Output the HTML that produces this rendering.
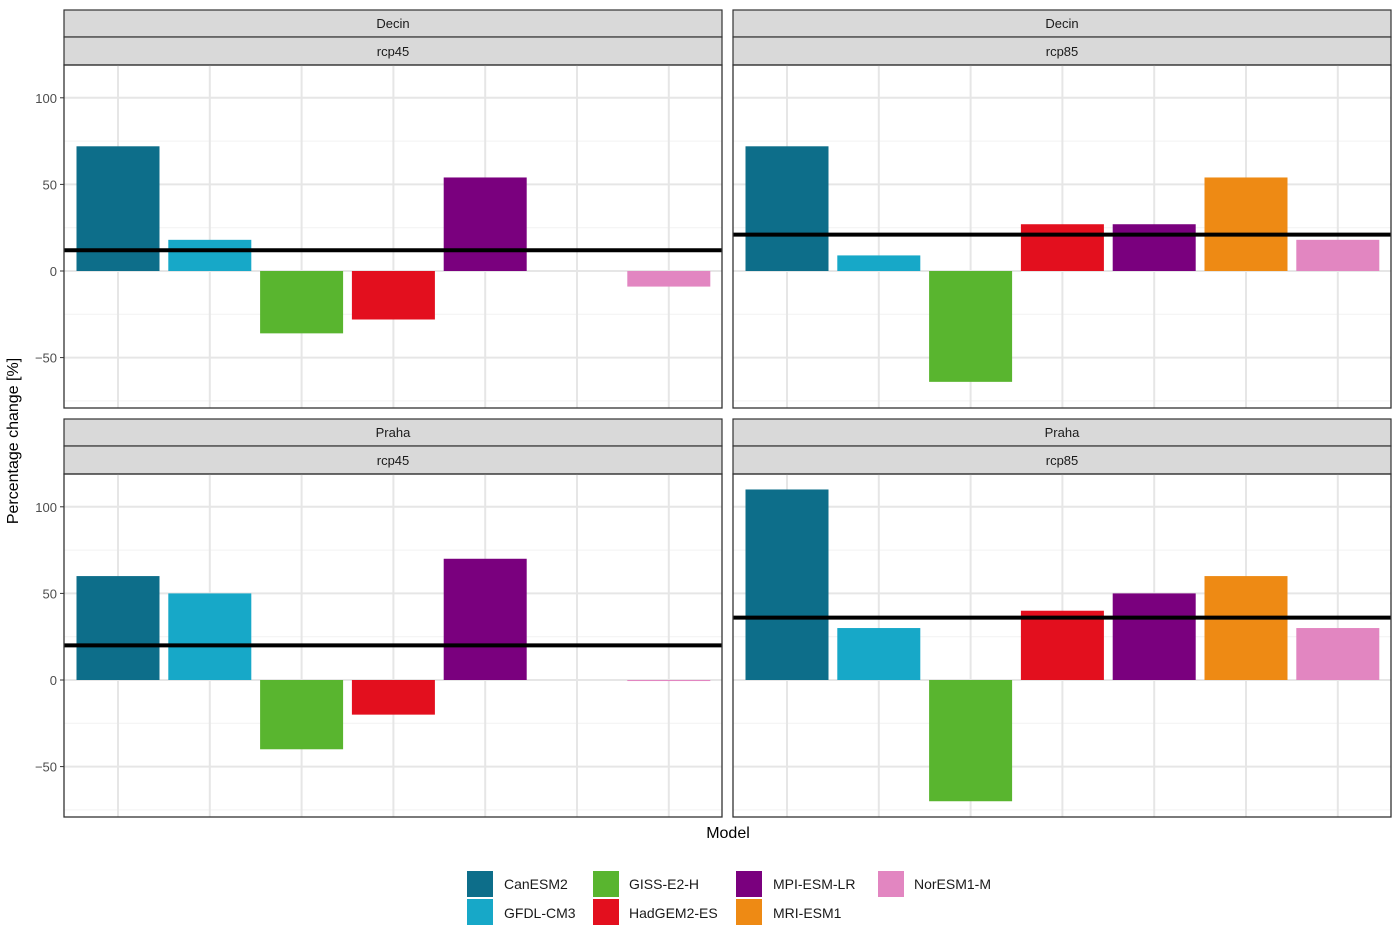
<!DOCTYPE html><html><head><style>body{margin:0;background:#fff}svg{display:block;font-family:"Liberation Sans",Arial,sans-serif}</style></head><body>
<svg id="S" width="1400" height="945" xmlns="http://www.w3.org/2000/svg">
<g id="panels"></g>
<text x="18" y="441" transform="rotate(-90 18 441)" text-anchor="middle" font-size="16" fill="#000">Percentage change [%]</text>
<text x="728" y="838" text-anchor="middle" font-size="16" fill="#000">Model</text>
<g font-size="14" fill="#1a1a1a">
<rect x="467" y="871" width="26" height="26" fill="#0D6E8A"/><text x="504" y="889">CanESM2</text>
<rect x="467" y="899" width="26" height="26" fill="#17A8C8"/><text x="504" y="918">GFDL-CM3</text>
<rect x="593" y="871" width="26" height="26" fill="#59B52F"/><text x="629" y="889">GISS-E2-H</text>
<rect x="593" y="899" width="26" height="26" fill="#E30F1E"/><text x="629" y="918">HadGEM2-ES</text>
<rect x="736" y="871" width="26" height="26" fill="#7A007E"/><text x="773" y="889">MPI-ESM-LR</text>
<rect x="736" y="899" width="26" height="26" fill="#EE8A14"/><text x="773" y="918">MRI-ESM1</text>
<rect x="878" y="871" width="26" height="26" fill="#E286C1"/><text x="914" y="889">NorESM1-M</text>
</g>
</svg>
<script>
const cols=["#0D6E8A","#17A8C8","#59B52F","#E30F1E","#7A007E","#EE8A14","#E286C1"];
const P=[
 {x:64,y:10,a:"Decin",b:"rcp45",v:[72,18,-36,-28,54,0,-9],m:12},
 {x:733,y:10,a:"Decin",b:"rcp85",v:[72,9,-64,27,27,54,18],m:21},
 {x:64,y:419,a:"Praha",b:"rcp45",v:[60,50,-40,-20,70,0,-0.6],m:20},
 {x:733,y:419,a:"Praha",b:"rcp85",v:[110,30,-70,40,50,60,30],m:36}];
let s="";const k=1.732;
P.forEach((p,pi)=>{const W=658,top=p.y+55,bot=p.y+398,z=p.y+261;
s+=`<rect x="${p.x}" y="${p.y}" width="${W}" height="27" fill="#d9d9d9" stroke="#333" stroke-width="1.2"/>`;
s+=`<rect x="${p.x}" y="${p.y+27}" width="${W}" height="28" fill="#d9d9d9" stroke="#333" stroke-width="1.2"/>`;
s+=`<text x="${p.x+W/2}" y="${p.y+18}" text-anchor="middle" font-size="13" fill="#1a1a1a">${p.a}</text>`;
s+=`<text x="${p.x+W/2}" y="${p.y+46}" text-anchor="middle" font-size="13" fill="#1a1a1a">${p.b}</text>`;
[75,25,-25,-75].forEach(t=>{const y=z-t*k;if(y<bot)s+=`<line x1="${p.x}" x2="${p.x+W}" y1="${y}" y2="${y}" stroke="#f2f2f2" stroke-width="1"/>`});
[100,50,0,-50].forEach(t=>{const y=z-t*k;s+=`<line x1="${p.x}" x2="${p.x+W}" y1="${y}" y2="${y}" stroke="#e6e6e6" stroke-width="2"/>`;
 if(pi%2==0){s+=`<line x1="${p.x-4}" x2="${p.x}" y1="${y}" y2="${y}" stroke="#333"/><text x="${p.x-7}" y="${y+5}" text-anchor="end" font-size="13" fill="#4d4d4d">${t==-50?"−50":t}</text>`}});
for(let i=0;i<7;i++){const cx=p.x+54+i*91.8;s+=`<line x1="${cx}" x2="${cx}" y1="${top}" y2="${bot}" stroke="#e6e6e6" stroke-width="2"/>`;}
for(let i=0;i<7;i++){const cx=p.x+54+i*91.8,v=p.v[i];if(v==0)continue;const y1=z-Math.max(v,0)*k,h=Math.abs(v)*k;
 s+=`<rect x="${cx-41.5}" y="${y1}" width="83" height="${Math.max(h,1)}" fill="${cols[i]}"/>`;}
const my=z-p.m*k;s+=`<line x1="${p.x}" x2="${p.x+W}" y1="${my}" y2="${my}" stroke="#000" stroke-width="4"/>`;
s+=`<rect x="${p.x}" y="${top}" width="${W}" height="${bot-top}" fill="none" stroke="#333" stroke-width="1.3"/>`;});
document.getElementById("panels").innerHTML=s;
</script>
</body></html>
